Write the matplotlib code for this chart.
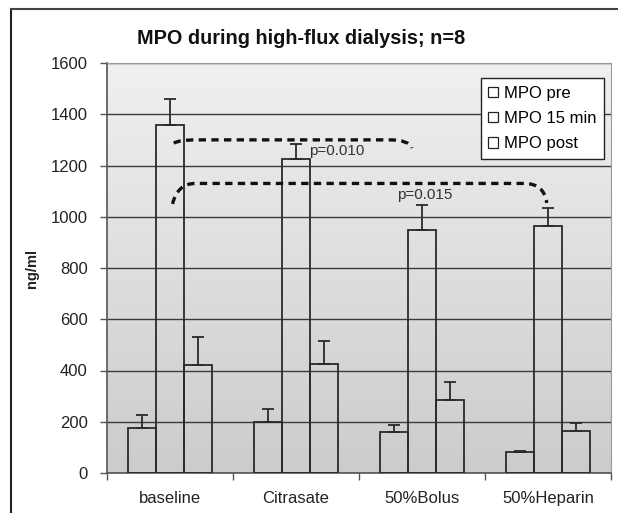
import matplotlib
matplotlib.use("Agg")
import matplotlib.pyplot as plt
import numpy as np
from matplotlib.path import Path
from matplotlib.patches import PathPatch, Patch

plt.rcParams['font.family'] = ['Liberation Sans', 'DejaVu Sans']

categories = ['baseline', 'Citrasate', '50%Bolus', '50%Heparin']
series = ['MPO pre', 'MPO 15 min', 'MPO post']
mpo_pre = [175, 198, 159, 82]
mpo_pre_err = [50, 53, 27, 5]
mpo_15 = [1360, 1227, 948, 964]
mpo_15_err = [100, 58, 96, 70]
mpo_post = [423, 427, 285, 165]
mpo_post_err = [109, 88, 70, 29]

# bracket annotations: (start x, start y), level y, (end x, end y)
brackets = [
    ((0.03, 1287), 1300, (1.92, 1268)),
    ((0.02, 1050), 1130, (2.99, 1054)),
]
p_labels = [('p=0.010', 1.1, 1255), ('p=0.015', 1.8, 1085)]

fig = plt.figure(figsize=(6.18, 5.13), dpi=100)
ax = fig.add_axes([107 / 618, 1 - 473 / 513, 504 / 618, 410 / 513])

# gradient background
grad = np.linspace(0, 1, 256).reshape(-1, 1)
ax.imshow(grad, extent=[0, 1, 0, 1], transform=ax.transAxes, aspect='auto',
          cmap=matplotlib.colors.LinearSegmentedColormap.from_list('g', ['#cbccce', '#f0f0f0']),
          origin='lower', zorder=0)

x = np.arange(len(categories))
w = 0.224
vals = [mpo_pre, mpo_15, mpo_post]
errs = [mpo_pre_err, mpo_15_err, mpo_post_err]
for i, (v, e) in enumerate(zip(vals, errs)):
    pos = x + (i - 1) * w
    ax.bar(pos, v, width=w, facecolor='none', edgecolor='#2a2a2a', linewidth=1.3, zorder=3)
    ax.errorbar(pos, v, yerr=[np.zeros(len(v)), e], fmt='none', ecolor='#2a2a2a',
                elinewidth=1.3, capsize=4, capthick=1.3, zorder=3)

ax.set_xlim(-0.5, 3.5)
ax.set_ylim(0, 1600)
ax.set_yticks(range(0, 1601, 200))
ax.yaxis.grid(True, color='#3a3a3a', linewidth=1)
for gl in ax.get_ygridlines():
    gl.set_zorder(1)

ax.set_xticks([-0.5, 0.5, 1.5, 2.5, 3.5])
ax.set_xticklabels([])
ax.set_xticks(x, minor=True)
ax.set_xticklabels(categories, minor=True, fontsize=12, color='#222222')
ax.tick_params(axis='x', which='minor', length=0, pad=13)
ax.tick_params(axis='x', which='major', length=5, color='#555555', width=1)
ax.tick_params(axis='y', length=5, color='#555555', width=1, labelsize=12,
               labelcolor='#222222', pad=9)

for s in ['top', 'right']:
    ax.spines[s].set_color('#9a9a9a')
for s in ['left', 'bottom']:
    ax.spines[s].set_color('#555555')
    ax.spines[s].set_linewidth(1.2)

ax.set_ylabel('ng/ml', fontsize=10.5, fontweight='bold', color='#222222')
ax.yaxis.set_label_coords(-0.135, 0.5)

for (sx, sy), lev, (ex, ey) in brackets:
    verts = [(sx, sy), (sx + 0.04, lev), (sx + 0.18, lev), (ex - 0.18, lev),
             (ex - 0.02, lev), (ex, ey)]
    codes = [Path.MOVETO, Path.CURVE3, Path.CURVE3, Path.LINETO, Path.CURVE3, Path.CURVE3]
    ax.add_patch(PathPatch(Path(verts, codes), fill=False, linestyle=(0, (2.2, 1.6)),
                           linewidth=2.4, edgecolor='#111111', zorder=4))

for txt, tx, ty in p_labels:
    ax.text(tx, ty, txt, fontsize=11, color='#333333', va='center', ha='left', zorder=5)

handles = [Patch(facecolor='white', edgecolor='#222222', linewidth=0.9) for _ in series]
leg = ax.legend(handles, series, loc='upper right', bbox_to_anchor=(0.986, 0.963),
                fontsize=12, frameon=True, fancybox=False, framealpha=1,
                handlelength=0.6, handleheight=0.6, handletextpad=0.35,
                labelspacing=0.62, borderpad=0.45, borderaxespad=0)
leg.get_frame().set_edgecolor('#222222')
leg.get_frame().set_linewidth(1)
leg.set_zorder(6)

fig.text(301 / 618, 1 - 38 / 513, 'MPO during high-flux dialysis; n=8', ha='center',
         va='center', fontsize=14.3, fontweight='bold', color='#111111')

# outer frame
fig.add_artist(plt.Line2D([11 / 618, 11 / 618], [0, 1 - 9 / 513], color='#222222', lw=1.5))
fig.add_artist(plt.Line2D([11 / 618, 1], [1 - 9 / 513, 1 - 9 / 513], color='#444444', lw=1.5))

fig.savefig('out.png', dpi=100)
